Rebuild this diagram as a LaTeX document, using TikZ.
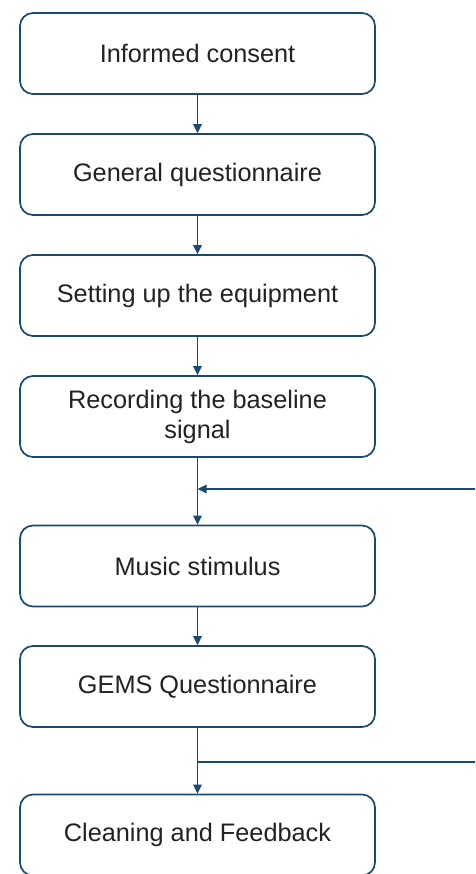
\documentclass[tikz,border=0pt]{standalone}
\usepackage{fontspec}
\setmainfont{Liberation Sans}
\usetikzlibrary{arrows.meta}
\definecolor{lineblue}{HTML}{1A4A72}
\definecolor{txtgray}{HTML}{222222}
\tikzset{
  stepbox/.style={draw=lineblue, line width=1.7pt, rounded corners=13pt, fill=white,
    minimum width=355pt, minimum height=81pt, inner sep=0pt, align=center,
    text=txtgray, font=\fontsize{25.3pt}{30pt}\selectfont},
  flow/.style={draw=lineblue, line width=1.6pt, -{Triangle[length=9pt,width=8.5pt]}},
  plainline/.style={draw=lineblue, line width=1.6pt}
}
\begin{document}
\begin{tikzpicture}[x=1pt,y=-1pt]
\useasboundingbox (0,0) rectangle (475,874);
\clip (0,0) rectangle (475,874);
\node[stepbox] (b1) at (197.5,53.5) {Informed consent};
\node[stepbox] (b2) at (197.5,174.5) {General questionnaire};
\node[stepbox] (b3) at (197.5,295.5) {Setting up the equipment};
\node[stepbox] (b4) at (197.5,416.5) {Recording the baseline\\signal};
\node[stepbox] (b5) at (197.5,566) {Music stimulus};
\node[stepbox] (b6) at (197.5,686.5) {GEMS Questionnaire};
\node[stepbox] (b7) at (197.5,835) {Cleaning and Feedback};
\coordinate (j1) at (197.5,489);
\coordinate (r1) at (476,489);
\coordinate (j2) at (197.5,762);
\coordinate (r2) at (476,762);
\draw[flow] (b1) -- (b2);
\draw[flow] (b2) -- (b3);
\draw[flow] (b3) -- (b4);
\draw[flow] (b4) -- (b5);
\draw[flow] (b5) -- (b6);
\draw[flow] (b6) -- (b7);
\draw[flow] (r1) -- (j1);
\draw[plainline] (j2) -- (r2);
\end{tikzpicture}
\end{document}
